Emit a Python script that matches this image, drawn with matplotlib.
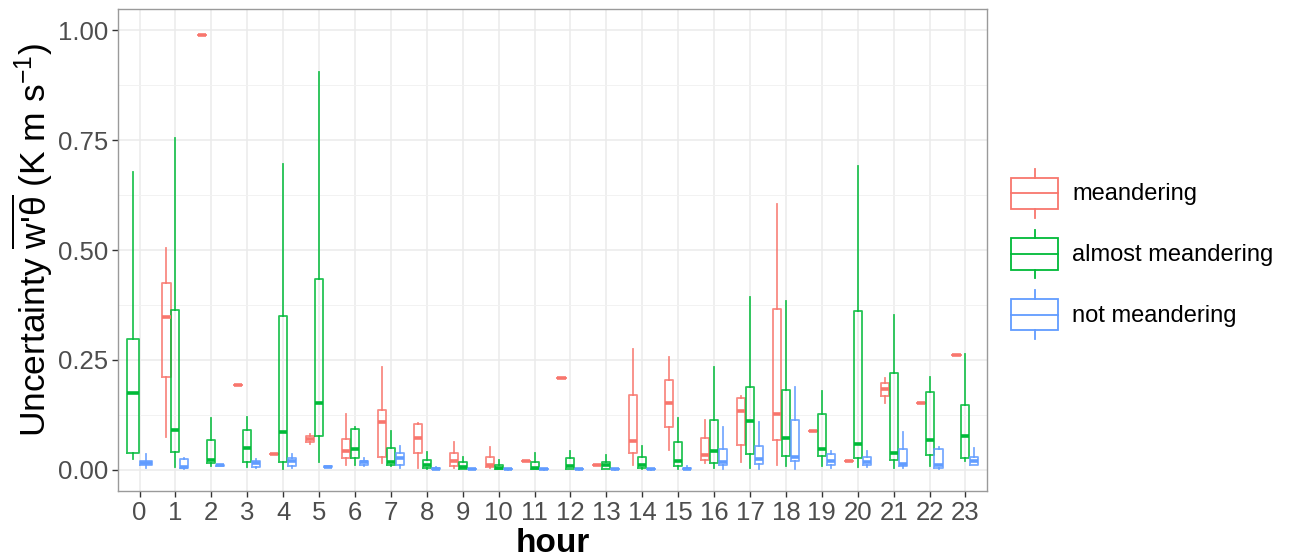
import numpy as np
import matplotlib.pyplot as plt
from matplotlib.legend_handler import HandlerBase
from matplotlib.lines import Line2D
from matplotlib.patches import Rectangle

plt.rcParams["font.family"] = ["Liberation Sans", "DejaVu Sans"]
plt.rcParams["mathtext.fontset"] = "custom"
plt.rcParams["mathtext.rm"] = "Liberation Sans"
plt.rcParams["mathtext.it"] = "Liberation Sans"

nan = np.nan
hours = list(range(24))
groups = ["meandering", "almost meandering", "not meandering"]
colors = ["#F8766D", "#00BA38", "#619CFF"]

# meandering
m_lo  = [nan, .074, .99, .193, .036, .059, .011, .015, .004, .005, .004, .020, .208, .010, .012, .045, .015, .019, .010, .088, .020, .152, .152, .261]
m_q1  = [nan, .211, .99, .193, .036, .064, .026, .030, .039, .009, .006, .020, .208, .010, .038, .098, .023, .057, .069, .088, .020, .167, .152, .261]
m_med = [nan, .348, .99, .193, .036, .070, .042, .108, .073, .020, .010, .020, .208, .010, .065, .152, .033, .133, .127, .088, .020, .183, .152, .261]
m_q3  = [nan, .426, .99, .193, .036, .077, .071, .136, .104, .038, .030, .020, .208, .010, .170, .204, .073, .163, .366, .088, .020, .197, .152, .261]
m_hi  = [nan, .504, .99, .193, .036, .082, .126, .235, .106, .064, .051, .020, .208, .010, .276, .256, .114, .167, .605, .088, .020, .208, .152, .261]

# almost meandering
a_lo  = [.025, .006, .008, .006, .002, .017, .012, .008, .002, .001, .001, .001, .001, .001, .002, .002, .004, .004, .009, .009, .006, .004, .008, .020]
a_q1  = [.038, .041, .015, .019, .017, .076, .027, .011, .004, .002, .002, .002, .002, .002, .004, .008, .015, .036, .031, .031, .027, .023, .034, .027]
a_med = [.174, .091, .022, .050, .087, .153, .048, .018, .011, .006, .005, .004, .009, .011, .010, .020, .042, .112, .072, .048, .059, .039, .067, .076]
a_q3  = [.298, .364, .067, .091, .351, .433, .094, .049, .023, .018, .011, .017, .028, .019, .030, .063, .114, .189, .181, .126, .361, .221, .176, .147]
a_hi  = [.678, .754, .117, .121, .695, .905, .098, .089, .040, .029, .022, .039, .042, .034, .055, .117, .233, .392, .384, .180, .691, .353, .211, .263]

# not meandering
n_lo  = [.004, .003, .008, .005, .005, .006, .008, .005, .001, .001, .000, .000, .000, .000, .000, .001, .002, .002, .003, .005, .006, .004, .002, .010]
n_q1  = [.011, .004, .009, .007, .009, .006, .012, .011, .002, .001, .001, .001, .001, .001, .001, .001, .010, .013, .020, .010, .010, .008, .004, .011]
n_med = [.015, .006, .010, .015, .020, .007, .017, .026, .003, .002, .001, .001, .001, .001, .001, .003, .018, .024, .030, .020, .017, .014, .011, .020]
n_q3  = [.021, .024, .011, .021, .026, .008, .021, .039, .005, .003, .002, .002, .002, .002, .002, .005, .047, .055, .114, .036, .029, .047, .047, .029]
n_hi  = [.036, .026, .012, .024, .036, .008, .026, .055, .006, .003, .002, .002, .002, .002, .002, .008, .098, .110, .188, .043, .044, .086, .053, .049]

series = [
    (m_lo, m_q1, m_med, m_q3, m_hi),
    (a_lo, a_q1, a_med, a_q3, a_hi),
    (n_lo, n_q1, n_med, n_q3, n_hi),
]

fig = plt.figure(figsize=(12.96, 5.58), dpi=100)
ax = fig.add_axes([118 / 1296, 1 - 491 / 558, 869 / 1296, 482 / 558])

# dodge like ggplot: boxes share 0.75 of the slot among the groups present
present = [[g for g in range(3) if not np.isnan(series[g][0][h])] for h in hours]
total_w = 0.75

for g, (lo, q1, med, q3, hi) in enumerate(series):
    stats, pos, wid = [], [], []
    for h in hours:
        if np.isnan(lo[h]):
            continue
        k = len(present[h])
        i = present[h].index(g)
        slot = total_w / k
        pos.append(h - total_w / 2 + (i + 0.5) * slot)
        wid.append(slot * 0.9)
        stats.append(dict(whislo=lo[h], q1=q1[h], med=med[h], q3=q3[h], whishi=hi[h]))
    c = colors[g]
    ax.bxp(stats, positions=pos, widths=wid, showfliers=False, showcaps=False,
           manage_ticks=False,
           boxprops=dict(color=c, lw=1.3, alpha=0.85),
           whiskerprops=dict(color=c, lw=1.3, alpha=0.85),
           medianprops=dict(color=c, lw=2.6))

ax.set_xlim(-0.6, 23.6)
ax.set_ylim(-0.048, 1.048)
ax.set_xticks(hours)
ax.set_xticklabels([str(h) for h in hours])
ax.set_yticks([0, 0.25, 0.5, 0.75, 1.0])
ax.set_yticklabels(["0.00", "0.25", "0.50", "0.75", "1.00"])
ax.set_yticks([0.125, 0.375, 0.625, 0.875], minor=True)
ax.tick_params(axis="y", which="minor", length=0)
ax.tick_params(which="major", length=4, width=1, color="#333333",
               labelsize=18.5, labelcolor="#4D4D4D", pad=3)
ax.grid(which="major", color="#EBEBEB", lw=1.1)
ax.grid(which="minor", axis="y", color="#F2F2F2", lw=0.7)
ax.set_axisbelow(True)
for s in ax.spines.values():
    s.set_color("#9A9A9A")
    s.set_linewidth(1)

ax.set_xlabel("hour", fontsize=24, fontweight="bold", labelpad=2)
ax.set_ylabel(r"Uncertainty $\overline{\mathrm{w\text{'}\theta}}$ (K m s$^{-1}$)", fontsize=25.5)
ax.yaxis.set_label_coords(-0.073, 0.52)


class BoxKey(HandlerBase):
    def create_artists(self, legend, orig, xd, yd, w, h, fs, trans):
        c = orig.get_color()
        x0, y0 = -xd, -yd
        box = Rectangle((x0, y0 + 0.18 * h), w, 0.64 * h, fill=False, ec=c, lw=1.3, transform=trans)
        med = Line2D([x0, x0 + w], [y0 + h / 2] * 2, color=c, lw=1.3, transform=trans)
        top = Line2D([x0 + w / 2] * 2, [y0 + 0.82 * h, y0 + h], color=c, lw=1.3, transform=trans)
        bot = Line2D([x0 + w / 2] * 2, [y0, y0 + 0.18 * h], color=c, lw=1.3, transform=trans)
        return [box, med, top, bot]


handles = [Line2D([], [], color=c) for c in colors]
fig.legend(handles, groups, handler_map={Line2D: BoxKey()}, loc="center left",
           bbox_to_anchor=(1011 / 1296, 1 - 254 / 558), frameon=False, fontsize=17,
           handlelength=2.0, handleheight=2.8, labelspacing=0.5, handletextpad=0.6,
           borderpad=0, borderaxespad=0)

fig.savefig("out.png", dpi=100)
